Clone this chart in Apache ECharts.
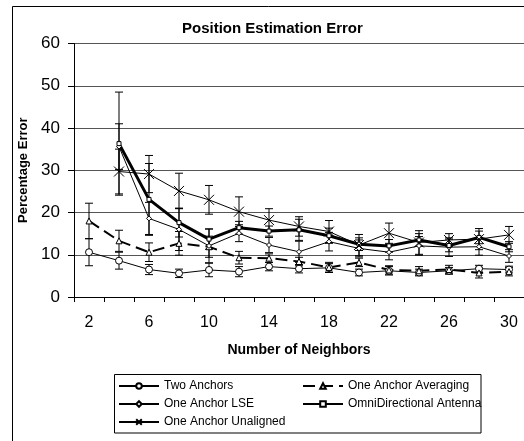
<!DOCTYPE html>
<html>
<head>
<meta charset="utf-8">
<script src="https://cdn.jsdelivr.net/npm/echarts@6/dist/echarts.min.js"></script>
<style>
html,body{margin:0;padding:0;background:#fff;}
#chart{width:524px;height:441px;}
</style>
</head>
<body>
<div id="chart"></div>
<script>
// Data
const neighbors = ['2','4','6','8','10','12','14','16','18','20','22','24','26','28','30'];
const yTicks = [0, 10, 20, 30, 40, 50, 60];

const twoAnchors   = [10.6, 8.6, 6.5, 5.6, 6.4, 6.0, 7.2, 6.7, 6.9, 5.8, 6.2, 5.8, 6.2, 6.7, 6.5];
const twoAnchorsErr= [3.2, 2.0, 1.2, 1.0, 1.6, 1.2, 1.0, 1.0, 1.0, 0.8, 1.0, 0.8, 0.8, 0.8, 0.8];

const averaging    = [18.0, 13.3, 10.6, 12.7, 11.9, 9.3, 9.2, 8.4, 7.0, 8.2, 6.4, 6.2, 6.5, 5.7, 6.0];
const averagingErr = [4.2, 2.5, 2.2, 2.8, 2.5, 1.5, 1.0, 1.0, 1.2, 1.0, 1.0, 1.0, 1.0, 1.2, 1.0];

const lse          = [null, 35.6, 18.6, 16.0, 12.1, 15.1, 12.3, 10.7, 13.1, 11.5, 10.6, 12.1, 11.8, 11.9, 9.7];
const lseErr       = [null, 5.4, 3.8, 5.0, 4.0, 2.0, 1.8, 2.5, 2.2, 2.0, 1.8, 2.2, 2.2, 2.0, 1.5];

const omni         = [null, 36.3, 23.1, 17.6, 13.7, 16.4, 15.6, 15.9, 14.5, 12.5, 12.1, 13.5, 12.2, 14.1, 11.9];
const omniErr      = [null, 12.2, 8.5, 3.4, 2.4, 1.5, 1.2, 2.5, 1.8, 1.5, 1.5, 1.5, 1.5, 1.5, 1.2];

const unaligned    = [null, 29.7, 29.1, 25.1, 23.0, 20.2, 18.2, 16.7, 15.5, 12.3, 15.1, 12.9, 13.5, 13.7, 14.7];
const unalignedErr = [null, 5.3, 4.4, 4.2, 3.4, 3.5, 2.7, 2.3, 2.6, 2.5, 2.4, 2.8, 1.5, 2.5, 2.0];

const seriesNames = ['Two Anchors', 'One Anchor Averaging', 'One Anchor LSE', 'OmniDirectional Antenna', 'One Anchor Unaligned'];

const FONT = 'Liberation Sans, Arial, sans-serif';
const X_PATH = 'path://M0,0L10,10M10,0L0,10';

function errSeries(vals, errs) {
  const data = [];
  vals.forEach(function (v, i) {
    if (v != null && errs[i] != null) data.push([i, v - errs[i], v + errs[i]]);
  });
  return {
    type: 'custom', data: data, silent: true, z: 3,
    encode: { x: 0, y: [1, 2] },
    renderItem: function (params, api) {
      const lo = api.coord([api.value(0), api.value(1)]);
      const hi = api.coord([api.value(0), api.value(2)]);
      const w = 4;
      const st = { stroke: '#000', lineWidth: 1 };
      return {
        type: 'group', children: [
          { type: 'line', shape: { x1: lo[0], y1: lo[1], x2: hi[0], y2: hi[1] }, style: st },
          { type: 'line', shape: { x1: lo[0] - w, y1: lo[1], x2: lo[0] + w, y2: lo[1] }, style: st },
          { type: 'line', shape: { x1: hi[0] - w, y1: hi[1], x2: hi[0] + w, y2: hi[1] }, style: st }
        ]
      };
    }
  };
}

function lineSeries(name, data, symbol, size, lw, type) {
  return {
    name: name, type: 'line', data: data, symbol: symbol, symbolSize: size,
    z: 4,
    lineStyle: { color: '#000', width: lw, type: type || 'solid' },
    itemStyle: { color: '#fff', borderColor: '#000', borderWidth: 1 },
    emphasis: { disabled: true }
  };
}

function legendItem(name, left, top) {
  return {
    data: [name], left: left, top: top, itemWidth: 40, itemHeight: 7, itemGap: 0,
    selectedMode: false,
    textStyle: { fontSize: 12, fontFamily: FONT, color: '#000' },
    padding: 0
  };
}

const chart = echarts.init(document.getElementById('chart'), null, { renderer: 'canvas' });
chart.setOption({
  animation: false,
  backgroundColor: '#fff',
  title: {
    text: 'Position Estimation Error',
    left: 182, top: 21,
    textStyle: { fontSize: 15, fontWeight: 'bold', fontFamily: FONT, color: '#000' },
    padding: 0
  },
  graphic: [
    { type: 'rect', shape: { x: 12.5, y: 6.5, width: 700, height: 600 }, style: { fill: 'none', stroke: '#000', lineWidth: 1 }, z: -1 },
    { type: 'rect', shape: { x: 114.5, y: 374.5, width: 366.5, height: 58.5 }, style: { fill: 'none', stroke: '#000', lineWidth: 1 }, z: 1 }
  ],
  legend: [
    legendItem(seriesNames[0], 118, 380),
    legendItem(seriesNames[1], 302, 380),
    legendItem(seriesNames[2], 118, 398),
    legendItem(seriesNames[3], 302, 398),
    legendItem(seriesNames[4], 118, 416)
  ],
  grid: { left: 74, top: 43.5, width: 452.5, height: 253.5, containLabel: false },
  xAxis: {
    type: 'category', data: neighbors, boundaryGap: true,
    name: 'Number of Neighbors', nameLocation: 'middle', nameGap: 46,
    nameTextStyle: { fontSize: 14, fontWeight: 'bold', fontFamily: FONT, color: '#000' },
    axisLine: { lineStyle: { color: '#000', width: 1 } },
    axisTick: { show: true, interval: 0, alignWithLabel: false, length: 5, lineStyle: { color: '#000' } },
    axisLabel: { interval: 1, fontSize: 16, fontFamily: FONT, color: '#000', margin: 18 },
    splitLine: { show: false }
  },
  yAxis: {
    type: 'value', min: yTicks[0], max: yTicks[yTicks.length - 1], interval: 10,
    name: 'Percentage Error', nameLocation: 'middle', nameGap: 41, nameRotate: 90,
    nameTextStyle: { fontSize: 13, fontWeight: 'bold', fontFamily: FONT, color: '#000' },
    axisLine: { show: true, lineStyle: { color: '#000', width: 1 } },
    axisTick: { show: true, length: 6, lineStyle: { color: '#000' } },
    axisLabel: { fontSize: 17, fontFamily: FONT, color: '#000', margin: 14 },
    splitLine: { show: true, lineStyle: { color: '#555', width: 1 } }
  },
  series: [
    errSeries(twoAnchors, twoAnchorsErr),
    errSeries(averaging, averagingErr),
    errSeries(lse, lseErr),
    errSeries(omni, omniErr),
    errSeries(unaligned, unalignedErr),
    lineSeries(seriesNames[0], twoAnchors, 'circle', 7, 1),
    lineSeries(seriesNames[1], averaging, 'triangle', 6, 2, [12, 6]),
    lineSeries(seriesNames[2], lse, 'diamond', 5, 1),
    lineSeries(seriesNames[3], omni, 'rect', 4, 3),
    lineSeries(seriesNames[4], unaligned, X_PATH, 10, 1)
  ]
});
</script>
</body>
</html>
